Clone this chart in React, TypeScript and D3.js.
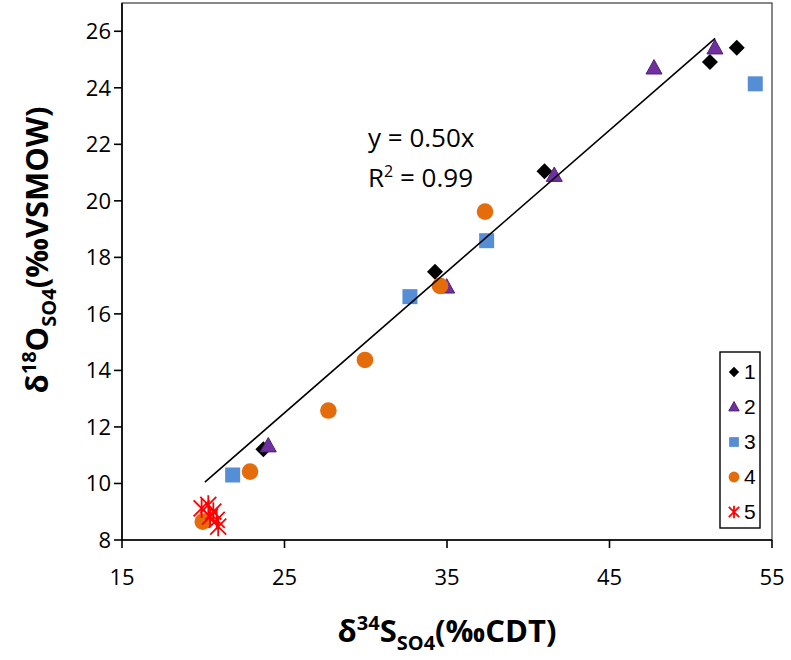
import React from "react";
import * as d3 from "d3";

// ---- data ----
const s1X = [52.83, 51.18, 41.0, 34.26, 23.7];
const s1Y = [25.42, 24.91, 21.05, 17.49, 11.21];
const s2X = [51.49, 47.74, 41.6, 34.98, 24.0];
const s2Y = [25.41, 24.7, 20.9, 16.95, 11.33];
const s3X = [53.97, 37.44, 32.72, 21.81];
const s3Y = [24.14, 18.59, 16.61, 10.3];
const s4X = [37.34, 34.57, 29.95, 27.7, 22.88, 19.97];
const s4Y = [19.62, 16.99, 14.37, 12.58, 10.42, 8.65];
const s5X = [19.9, 20.31, 20.62, 20.42, 20.83, 20.92];
const s5Y = [9.12, 9.24, 9.0, 8.83, 8.71, 8.47];
const seriesNames = ["1", "2", "3", "4", "5"];
const xTicks = [15, 25, 35, 45, 55];
const yTicks = [8, 10, 12, 14, 16, 18, 20, 22, 24, 26];
const xDomain = [15, 55];
const yDomain = [8, 27];
const trendSlope = 0.5;
const trendXRange = [20.1, 51.5];
const eqText = "y = 0.50x";
const r2Value = "0.99";

const W = 791;
const H = 660;
const plot = { left: 122, right: 772, top: 3, bottom: 540 };

const x = d3.scaleLinear().domain(xDomain).range([plot.left, plot.right]);
const y = d3.scaleLinear().domain(yDomain).range([plot.bottom, plot.top]);

const diamondPath = (s: number) => `M0,${-s}L${s},0L0,${s}L${-s},0Z`;
const trianglePath = (s: number) =>
  `M0,${-s * 1.05}L${s},${s * 0.75}L${-s},${s * 0.75}Z`;
const starPath = (s: number) =>
  `M${-s},${-s}L${s},${s}M${-s},${s}L${s},${-s}M0,${-s * 1.2}L0,${s * 1.2}`;

const colors = {
  s1: "#000000",
  s2: "#7030A0",
  s2Stroke: "#4E2272",
  s3: "#558ED5",
  s4: "#E46C0A",
  s5: "#FF0000",
};

function Marker({ kind, cx, cy, scale = 1 }: { kind: number; cx: number; cy: number; scale?: number }) {
  const t = `translate(${cx},${cy})`;
  if (kind === 0)
    return <path transform={t} d={diamondPath(8 * scale)} fill={colors.s1} />;
  if (kind === 1)
    return (
      <path transform={t} d={trianglePath(8 * scale)} fill={colors.s2} stroke={colors.s2Stroke} strokeWidth={1} />
    );
  if (kind === 2) {
    const h = 7.5 * scale;
    return <rect x={cx - h} y={cy - h} width={2 * h} height={2 * h} fill={colors.s3} />;
  }
  if (kind === 3) return <circle cx={cx} cy={cy} r={8.3 * scale} fill={colors.s4} />;
  return <path transform={t} d={starPath(8 * scale)} stroke={colors.s5} strokeWidth={1.8} fill="none" />;
}

export default function App() {
  const series = [
    [s1X, s1Y],
    [s2X, s2Y],
    [s3X, s3Y],
    [s4X, s4Y],
    [s5X, s5Y],
  ];
  const font = "'Open Sans', 'Noto Sans', sans-serif";
  const line = d3
    .line<number>()
    .x((d) => x(d))
    .y((d) => y(trendSlope * d));
  const legendTop = 352;
  const legendStep = 35;
  return (
    <svg width={W} height={H} style={{ position: "absolute", left: 0, top: 0, background: "#fff" }}>
      {/* plot border */}
      <rect
        x={plot.left}
        y={plot.top}
        width={plot.right - plot.left}
        height={plot.bottom - plot.top}
        fill="none"
        stroke="#3a3a3a"
        strokeWidth={1.2}
      />
      {/* axes */}
      <line x1={plot.left} x2={plot.left} y1={plot.top} y2={plot.bottom} stroke="#000" strokeWidth={1.6} />
      <line x1={plot.left} x2={plot.right} y1={plot.bottom} y2={plot.bottom} stroke="#000" strokeWidth={1.6} />
      {yTicks.map((t) => (
        <g key={"y" + t}>
          <line x1={plot.left - 8} x2={plot.left} y1={y(t)} y2={y(t)} stroke="#000" strokeWidth={1.6} />
          <text x={plot.left - 11} y={y(t) + 8} textAnchor="end" fontFamily={font} fontSize={22} fill="#000">
            {t}
          </text>
        </g>
      ))}
      {xTicks.map((t) => (
        <g key={"x" + t}>
          <line x1={x(t)} x2={x(t)} y1={plot.bottom} y2={plot.bottom + 8} stroke="#000" strokeWidth={1.6} />
          <text x={x(t)} y={plot.bottom + 45} textAnchor="middle" fontFamily={font} fontSize={22} fill="#000">
            {t}
          </text>
        </g>
      ))}
      {/* points */}
      {series.map(([xs, ys], k) =>
        xs.map((v, i) => <Marker key={k + "-" + i} kind={k} cx={x(v)} cy={y(ys[i])} />)
      )}
      {/* trendline */}
      <path d={line(trendXRange) || ""} stroke="#000" strokeWidth={1.6} fill="none" />
      <text x={368} y={147} fontFamily={font} fontSize={26} fill="#000">
        {eqText}
      </text>
      <text x={368} y={187} fontFamily={font} fontSize={26} fill="#000">
        R<tspan dy={-10} fontSize={16}>2</tspan>
        <tspan dy={10}>{" = " + r2Value}</tspan>
      </text>
      {/* legend */}
      <rect x={720} y={legendTop} width={40} height={176} fill="#fff" stroke="#000" strokeWidth={1.4} />
      {seriesNames.map((n, i) => (
        <g key={"lg" + n}>
          <Marker kind={i} cx={734} cy={legendTop + 20 + i * legendStep} scale={0.65} />
          <text
            x={744}
            y={legendTop + 20 + i * legendStep + 7}
            fontFamily="'Liberation Sans', Arial, sans-serif"
            fontSize={21}
            fill="#000"
          >
            {n}
          </text>
        </g>
      ))}
      {/* axis titles */}
      <text
        x={x(35)}
        y={642}
        textAnchor="middle"
        fontFamily={font}
        fontWeight="bold"
        fontSize={31}
        fill="#000"
      >
        δ<tspan dy={-12} fontSize={20}>34</tspan>
        <tspan dy={12}>S</tspan>
        <tspan dy={8} fontSize={20}>SO4</tspan>
        <tspan dy={-8}>(‰CDT)</tspan>
      </text>
      <text
        transform={`translate(48,250) rotate(-90)`}
        textAnchor="middle"
        fontFamily={font}
        fontWeight="bold"
        fontSize={31}
        fill="#000"
      >
        δ<tspan dy={-12} fontSize={20}>18</tspan>
        <tspan dy={12}>O</tspan>
        <tspan dy={8} fontSize={20}>SO4</tspan>
        <tspan dy={-8}>(‰VSMOW)</tspan>
      </text>
    </svg>
  );
}
